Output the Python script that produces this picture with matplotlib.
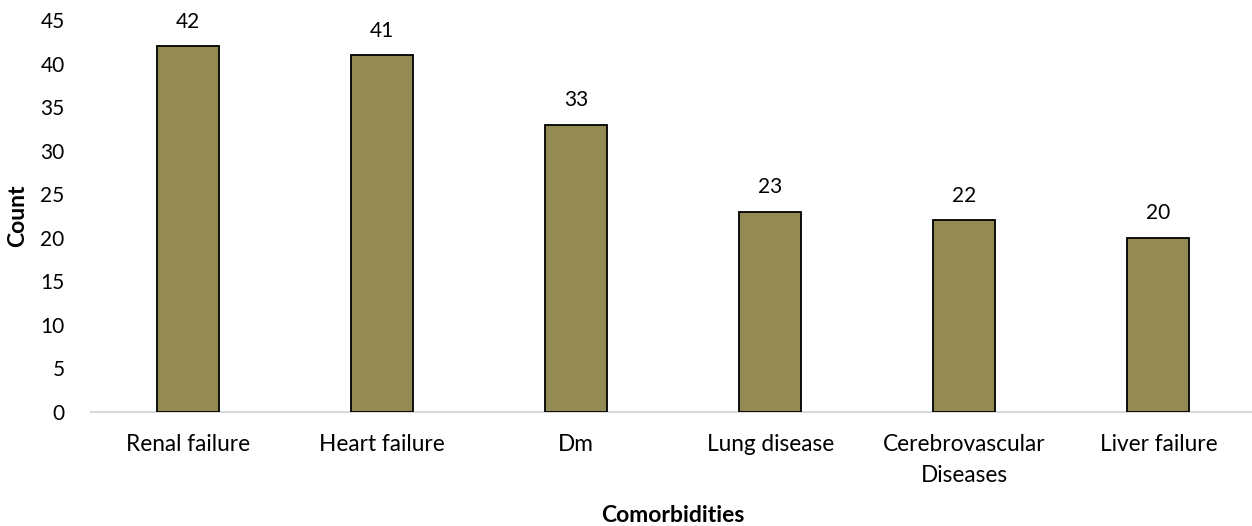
import matplotlib
matplotlib.use("Agg")
import matplotlib.pyplot as plt

plt.rcParams['font.family'] = ['Lato', 'DejaVu Sans']

categories = ["Renal failure", "Heart failure", "Dm", "Lung disease",
              "Cerebrovascular\nDiseases", "Liver failure"]
counts = [42, 41, 33, 23, 22, 20]
y_ticks = [0, 5, 10, 15, 20, 25, 30, 35, 40, 45]

bar_color = "#948b54"
axis_grey = "#d9d9d9"

fig = plt.figure(figsize=(12.52, 5.26), dpi=100)
ax = fig.add_axes([0.0727, 0.2167, 0.93, 0.7452])

x = range(len(categories))
ax.bar(x, counts, width=0.32, color=bar_color, edgecolor="black",
       linewidth=1.3, zorder=3)

# value labels above each bar
for xi, v in zip(x, counts):
    ax.annotate(str(v), (xi, v), xytext=(0, 17.5), textcoords="offset points",
                ha="center", va="center", fontsize=15)

ax.set_xlim(-0.5, len(categories) - 0.5)
ax.set_ylim(0, 45)
ax.set_yticks(y_ticks)
ax.set_xticks(list(x))
ax.set_xticklabels(categories, fontsize=16.3, linespacing=1.6)
ax.tick_params(axis="y", labelsize=15, length=0, pad=19)
ax.tick_params(axis="x", length=0, pad=16)

for side in ["top", "right", "left"]:
    ax.spines[side].set_visible(False)
ax.spines["bottom"].set_color(axis_grey)
ax.spines["bottom"].set_linewidth(1.5)

ax.set_ylabel("Count", fontsize=16.5, fontweight="bold", va="center")
ax.yaxis.set_label_coords(-0.0627, 0.5)
ax.set_xlabel("Comorbidities", fontsize=16.5, fontweight="bold", va="center")
ax.xaxis.set_label_coords(0.5, -0.263)

fig.savefig("out.png", dpi=100)
